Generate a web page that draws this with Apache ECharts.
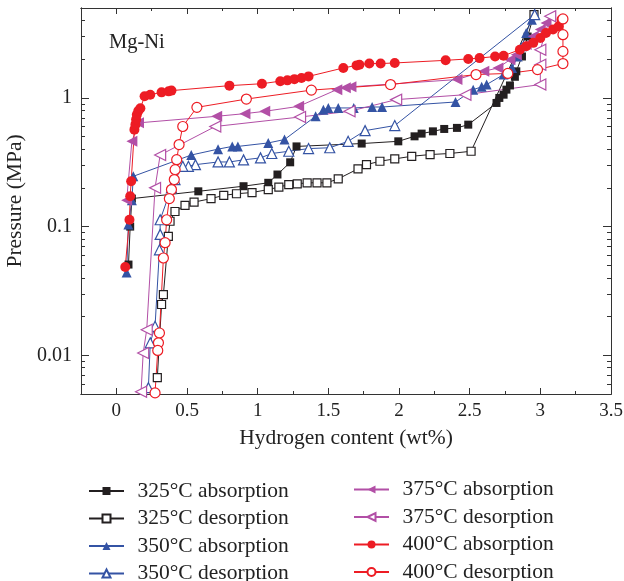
<!DOCTYPE html>
<html>
<head>
<meta charset="utf-8">
<title>Mg-Ni PCT</title>
<script src="https://cdn.jsdelivr.net/npm/echarts@6/dist/echarts.min.js"></script>
<style>
  html, body { margin: 0; padding: 0; background: #fff; }
  #chart { width: 624px; height: 581px; }
</style>
</head>
<body>
<div id="chart"></div>
<script>
  // tick values
  var xTicks = [0, 0.5, 1, 1.5, 2, 2.5, 3, 3.5];
  var xMinorTicks = [0.25, 0.75, 1.25, 1.75, 2.25, 2.75, 3.25];
  var yTicks = [0.01, 0.1, 1];
  var yMinorTicks = [0.006, 0.007, 0.008, 0.009, 0.02, 0.03, 0.04, 0.05, 0.06, 0.07, 0.08, 0.09,
    0.2, 0.3, 0.4, 0.5, 0.6, 0.7, 0.8, 0.9, 2, 3, 4];

  // 325°C
  var abs325X = [0.086, 0.098, 0.11, 0.58, 0.90, 1.075, 1.14, 1.23, 1.275, 1.736, 1.995, 2.11, 2.16, 2.24, 2.32, 2.41, 2.49, 2.69, 2.71, 2.74, 2.76, 2.785, 2.82, 2.83, 2.87, 2.91, 2.955];
  var abs325P = [0.0507, 0.1, 0.165, 0.188, 0.206, 0.219, 0.254, 0.316, 0.42, 0.442, 0.46, 0.503, 0.528, 0.55, 0.574, 0.585, 0.62, 0.914, 1.0, 1.06, 1.16, 1.25, 1.46, 1.61, 2.1, 3.0, 4.44];
  var des325X = [2.955, 2.51, 2.36, 2.22, 2.09, 1.97, 1.865, 1.77, 1.71, 1.57, 1.49, 1.42, 1.35, 1.28, 1.22, 1.15, 1.075, 0.96, 0.85, 0.76, 0.67, 0.55, 0.486, 0.415, 0.38, 0.368, 0.333, 0.32, 0.29];
  var des325P = [4.44, 0.385, 0.37, 0.363, 0.352, 0.336, 0.322, 0.303, 0.281, 0.235, 0.219, 0.219, 0.219, 0.215, 0.212, 0.203, 0.194, 0.184, 0.18, 0.175, 0.165, 0.155, 0.146, 0.131, 0.11, 0.084, 0.0296, 0.0248, 0.0067];

  // 350°C
  var abs350X = [0.073, 0.085, 0.11, 0.12, 0.53, 0.72, 0.82, 0.86, 1.075, 1.19, 1.41, 1.465, 1.50, 1.57, 1.68, 1.81, 1.88, 2.40, 2.525, 2.585, 2.62, 2.74, 2.80, 2.84, 2.87, 2.90, 2.94, 2.96];
  var abs350P = [0.044, 0.104, 0.16, 0.246, 0.36, 0.40, 0.42, 0.42, 0.447, 0.475, 0.72, 0.81, 0.836, 0.836, 0.836, 0.85, 0.85, 0.93, 1.16, 1.22, 1.27, 1.52, 1.71, 2.10, 2.52, 3.20, 4.06, 4.44];
  var des350X = [2.96, 1.97, 1.76, 1.64, 1.51, 1.36, 1.22, 1.10, 1.02, 0.90, 0.80, 0.72, 0.56, 0.51, 0.47, 0.415, 0.39, 0.31, 0.31, 0.305, 0.274, 0.24, 0.227];
  var des350P = [4.44, 0.61, 0.557, 0.46, 0.41, 0.404, 0.385, 0.37, 0.342, 0.33, 0.318, 0.318, 0.303, 0.294, 0.294, 0.232, 0.2, 0.113, 0.087, 0.066, 0.0168, 0.0125, 0.0056];

  // 375°C
  var abs375X = [0.073, 0.11, 0.157, 0.71, 0.91, 1.05, 1.29, 1.56, 1.62, 1.66, 2.41, 2.60, 2.70, 2.785, 2.83, 2.90, 2.95, 3.0, 3.04, 3.07];
  var abs375P = [0.16, 0.46, 0.64, 0.72, 0.755, 0.787, 0.86, 1.16, 1.20, 1.22, 1.39, 1.61, 1.71, 1.98, 2.17, 2.6, 3.01, 3.4, 3.83, 4.31];
  var des375X = [3.07, 3.0, 3.0, 3.0, 2.47, 1.98, 1.65, 1.30, 0.70, 0.31, 0.274, 0.215, 0.19, 0.175];
  var des375P = [4.31, 2.37, 1.81, 1.27, 1.06, 0.97, 0.787, 0.711, 0.60, 0.36, 0.2, 0.0158, 0.0104, 0.0052];

  // 400°C
  var abs400X = [0.063, 0.093, 0.098, 0.105, 0.128, 0.135, 0.14, 0.145, 0.155, 0.17, 0.20, 0.24, 0.32, 0.37, 0.39, 0.80, 1.03, 1.16, 1.21, 1.26, 1.31, 1.36, 1.606, 1.70, 1.72, 1.79, 1.87, 1.97, 2.33, 2.49, 2.57, 2.68, 2.74, 2.855, 2.90, 2.95, 3.00, 3.04, 3.09, 3.13, 3.15];
  var abs400P = [0.0486, 0.113, 0.172, 0.225, 0.567, 0.62, 0.68, 0.74, 0.79, 0.83, 1.03, 1.06, 1.105, 1.125, 1.14, 1.246, 1.29, 1.35, 1.37, 1.40, 1.43, 1.47, 1.71, 1.79, 1.81, 1.85, 1.85, 1.87, 1.96, 2.01, 2.04, 2.10, 2.13, 2.37, 2.52, 2.68, 2.92, 3.20, 3.40, 3.60, 4.06];
  var des400X = [3.16, 3.16, 3.16, 3.16, 2.98, 2.77, 2.545, 1.94, 1.38, 0.92, 0.57, 0.47, 0.444, 0.427, 0.416, 0.41, 0.39, 0.375, 0.356, 0.345, 0.333, 0.305, 0.298, 0.293, 0.274];
  var des400P = [4.11, 3.10, 2.30, 1.85, 1.66, 1.55, 1.52, 1.27, 1.15, 0.98, 0.845, 0.60, 0.434, 0.331, 0.277, 0.232, 0.194, 0.165, 0.113, 0.075, 0.057, 0.0149, 0.0125, 0.0109, 0.0051];

  var FONT = '"Liberation Serif", "Times New Roman", serif';
  var AXIS_COLOR = '#333';
  var TEXT_COLOR = '#222';

  function pairs(xs, ys) {
    return xs.map(function (x, i) { return [x, ys[i]]; });
  }

  function makeSeries(name, xs, ys, color, symbol, size, filled, rotate) {
    return {
      name: name,
      type: 'line',
      data: pairs(xs, ys),
      symbol: symbol,
      symbolSize: size,
      symbolRotate: rotate || 0,
      showAllSymbol: true,
      lineStyle: { color: color, width: 1 },
      itemStyle: {
        color: filled ? color : '#fff',
        borderColor: color,
        borderWidth: filled ? 0 : 1.2
      },
      emphasis: { disabled: true },
      animation: false
    };
  }

  // 坐标轴：主刻度 + 次刻度，四周都画
  function xAxisOf(pos, ticks, len, withLabel) {
    return {
      type: 'value',
      position: pos,
      min: -0.25,
      max: 3.5,
      splitLine: { show: false },
      axisLine: { show: true, onZero: false, lineStyle: { color: AXIS_COLOR, width: 1 } },
      axisTick: { show: true, inside: true, length: len, customValues: ticks, lineStyle: { color: AXIS_COLOR } },
      axisLabel: withLabel ? {
        show: true, customValues: ticks, margin: 8,
        fontFamily: FONT, fontSize: 19, color: TEXT_COLOR
      } : { show: false }
    };
  }

  function yAxisOf(pos, ticks, len, withLabel) {
    return {
      type: 'log',
      logBase: 10,
      position: pos,
      min: 0.005,
      max: 5,
      splitLine: { show: false },
      axisLine: { show: true, onZero: false, lineStyle: { color: AXIS_COLOR, width: 1 } },
      axisTick: { show: true, inside: true, length: len, customValues: ticks, lineStyle: { color: AXIS_COLOR } },
      axisLabel: withLabel ? {
        show: true, customValues: ticks, margin: 9,
        fontFamily: FONT, fontSize: 20, color: TEXT_COLOR,
        formatter: function (v) { return String(v); }
      } : { show: false }
    };
  }

  var xMain = xAxisOf('bottom', xTicks, 6, true);
  xMain.name = 'Hydrogen content (wt%)';
  xMain.nameLocation = 'middle';
  xMain.nameGap = 33;
  xMain.nameTextStyle = { fontFamily: FONT, fontSize: 21.5, color: TEXT_COLOR };

  var yMain = yAxisOf('left', yTicks, 8, true);
  yMain.name = 'Pressure (MPa)';
  yMain.nameLocation = 'middle';
  yMain.nameGap = 33;
  yMain.nameTextStyle = { fontFamily: FONT, fontSize: 21.5, color: TEXT_COLOR };

  function legendOf(left, top, names) {
    return {
      orient: 'vertical',
      left: left,
      top: top,
      width: 270,
      height: 110,
      itemWidth: 35,
      itemHeight: 10,
      itemGap: 5.5,
      textStyle: { fontFamily: FONT, fontSize: 21.5, lineHeight: 21.5, color: TEXT_COLOR, padding: [0, 0, 0, 8.5] },
      data: names
    };
  }

  var chart = echarts.init(document.getElementById('chart'));
  chart.setOption({
    backgroundColor: '#fff',
    animation: false,
    title: {
      text: 'Mg-Ni',
      left: 104,
      top: 27,
      textStyle: { fontFamily: FONT, fontSize: 20.5, fontWeight: 'normal', color: TEXT_COLOR }
    },
    grid: { left: 81, right: 13, top: 8, bottom: 187, outerBoundsMode: 'none' },
    xAxis: [
      xMain,
      xAxisOf('bottom', xMinorTicks, 3, false),
      xAxisOf('top', xTicks, 6, false),
      xAxisOf('top', xMinorTicks, 3, false)
    ],
    yAxis: [
      yMain,
      yAxisOf('left', yMinorTicks, 4, false),
      yAxisOf('right', yTicks, 8, false),
      yAxisOf('right', yMinorTicks, 4, false)
    ],
    legend: [
      legendOf(83, 475, ['325°C absorption', '325°C desorption', '350°C absorption', '350°C desorption']),
      legendOf(348, 473.5, ['375°C absorption', '375°C desorption', '400°C absorption', '400°C desorption'])
    ],
    series: [
      makeSeries('325°C absorption', abs325X, abs325P, '#231f20', 'rect', 8, true),
      makeSeries('325°C desorption', des325X, des325P, '#231f20', 'rect', 8, false),
      makeSeries('350°C absorption', abs350X, abs350P, '#3453a4', 'triangle', 10, true),
      makeSeries('350°C desorption', des350X, des350P, '#3453a4', 'triangle', 10, false),
      makeSeries('375°C absorption', abs375X, abs375P, '#b24fa6', 'triangle', 11, true, 90),
      makeSeries('375°C desorption', des375X, des375P, '#b24fa6', 'triangle', 11, false, 90),
      makeSeries('400°C absorption', abs400X, abs400P, '#ed1c24', 'circle', 10, true),
      makeSeries('400°C desorption', des400X, des400P, '#ed1c24', 'circle', 10, false)
    ]
  });
</script>
</body>
</html>
